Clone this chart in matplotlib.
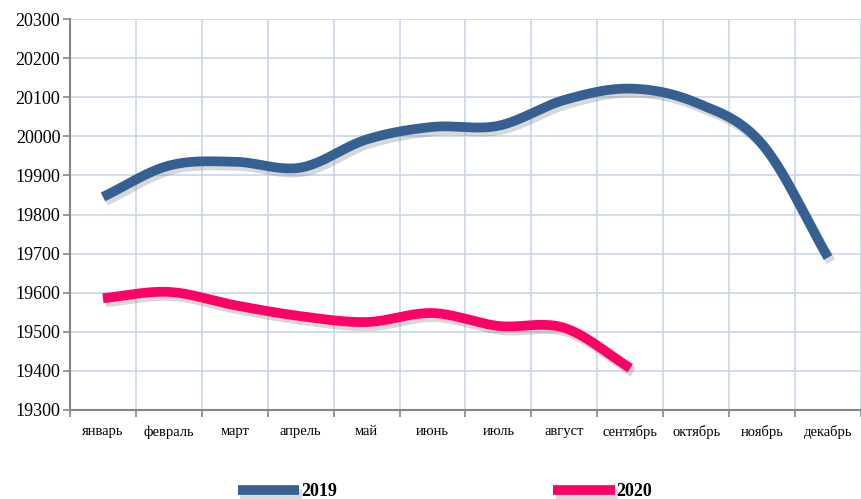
import numpy as np
import matplotlib
matplotlib.use('Agg')
import matplotlib.pyplot as plt
import matplotlib.patheffects as pe

months = ['январь', 'февраль', 'март', 'апрель', 'май', 'июнь', 'июль',
          'август', 'сентябрь', 'октябрь', 'ноябрь', 'декабрь']
values_2019 = [19845, 19925, 19935, 19920, 19992, 20024, 20027, 20093, 20122, 20086, 19980, 19690]
values_2020 = [19586, 19602, 19568, 19540, 19525, 19548, 19515, 19510, 19407]

plt.rcParams['font.family'] = ['Liberation Serif', 'DejaVu Serif']


def smooth(ys, steps=24):
    # Catmull-Rom curve through the points, like Excel's smoothed line
    ys = np.asarray(ys, dtype=float)
    xs = np.arange(len(ys), dtype=float)
    px = np.concatenate([[2 * xs[0] - xs[1]], xs, [2 * xs[-1] - xs[-2]]])
    py = np.concatenate([[2 * ys[0] - ys[1]], ys, [2 * ys[-1] - ys[-2]]])
    out_x, out_y = [], []
    t = np.linspace(0, 1, steps, endpoint=False)
    for i in range(1, len(px) - 2):
        for p, out in ((px, out_x), (py, out_y)):
            p0, p1, p2, p3 = p[i - 1], p[i], p[i + 1], p[i + 2]
            out.extend(0.5 * (2 * p1 + (-p0 + p2) * t
                              + (2 * p0 - 5 * p1 + 4 * p2 - p3) * t ** 2
                              + (-p0 + 3 * p1 - 3 * p2 + p3) * t ** 3))
    out_x.append(xs[-1])
    out_y.append(ys[-1])
    return np.array(out_x), np.array(out_y)


fig = plt.figure(figsize=(8.62, 4.99), dpi=100)
ax = fig.add_axes([70 / 862, 1 - 410 / 499, 791 / 862, 391 / 499])

shadow = [pe.SimpleLineShadow(offset=(2, -3), shadow_color='#808080', alpha=0.3), pe.Normal()]
x19, y19 = smooth(values_2019)
x20, y20 = smooth(values_2020)
ax.plot(x19, y19, color='#376092', linewidth=7, solid_capstyle='butt',
        label='2019', path_effects=shadow, zorder=3)
ax.plot(x20, y20, color='#FF0066', linewidth=7, solid_capstyle='butt',
        label='2020', path_effects=shadow, zorder=3)

ax.set_xlim(-0.5, 11.5)
ax.set_ylim(19300, 20300)
ax.set_yticks(np.arange(19300, 20301, 100))
ax.set_xticks(np.arange(12))
ax.set_xticklabels(months, fontsize=10.5)
ax.set_xticks(np.arange(-0.5, 12, 1), minor=True)
ax.tick_params(axis='x', which='major', length=0, pad=11)
ax.tick_params(axis='x', which='minor', length=5, color='#868686', width=1.2)
ax.tick_params(axis='y', labelsize=13, length=5, color='#868686', width=1.2, pad=2)

ax.grid(True, axis='y', color='#C8D5EA', linewidth=1.2)
ax.grid(True, axis='x', which='minor', color='#C8D5EA', linewidth=1.2)
ax.set_axisbelow(True)
for side in ['top', 'right']:
    ax.spines[side].set_visible(False)
for side in ['left', 'bottom']:
    ax.spines[side].set_color('#868686')
    ax.spines[side].set_linewidth(1.5)

fig.legend(loc='center', bbox_to_anchor=(445 / 862, 1 - 492 / 499), ncol=2,
           frameon=False, handlelength=3.4, handletextpad=0.1, columnspacing=12.0,
           prop={'weight': 'bold', 'size': 13})

fig.savefig('out.png', dpi=100)
